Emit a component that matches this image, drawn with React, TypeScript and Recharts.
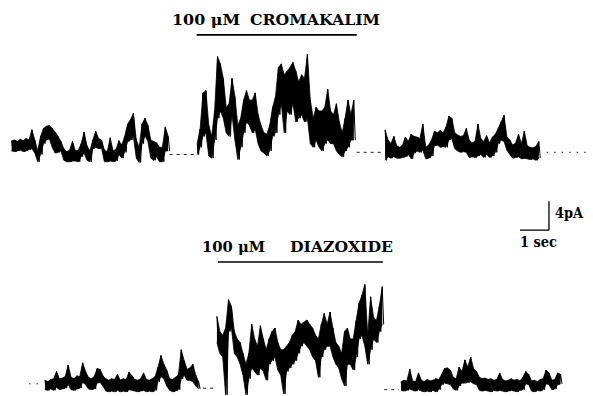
import React from 'react'
import { ComposedChart, Line, Area, XAxis, YAxis, ReferenceLine } from 'recharts'

// sampling step of the read-off envelope, seconds
const STEP = 0.1

// --- top trace (cromakalim), current in pA, max / min per sample ---
const cromaStarts = [0.4, 6.8, 13.28]
const cromaHi1 = [1.9, 2.0, 1.8, 2.1, 1.9, 2.2, 2.0, 3.4, 2.0, 0.5, 2.5, 3.6, 3.9, 4.0, 3.6, 3.1, 2.5, 1.8, 0.8, 0.4, 0.6, 1.8, 0.5, 0.6, 1.5, 3.1, 1.2, 0.5, 2.0, 3.2, 2.2, 2.0, 0.6, 0.4, 2.3, 0.5, 0.7, 1.9, 1.3, 2.5, 4.2, 4.8, 5.7, 2.0, 1.0, 4.2, 5.0, 4.0, 2.0, 1.8, 1.6, 1.0, 1.0, 3.8, 2.5]
const cromaLo1 = [0.5, 0.4, 0.5, 0.6, 0.4, 0.5, 0.7, 0.8, 0.2, -1.0, 0.0, 1.5, 2.0, 2.2, 1.0, 0.2, 0.3, 0.5, -0.8, -1.0, -1.0, -0.9, -0.9, -1.0, -0.3, 0.2, -0.8, -1.0, 0.8, 1.0, 0.8, 0.9, -1.0, -1.0, -0.9, -1.0, -0.9, 0.0, -0.5, 0.3, 1.8, 2.0, 2.5, -0.5, -1.1, 1.5, 2.6, 1.8, -0.5, -0.8, -0.3, -1.0, -1.0, 0.5, 0.5]
const cromaHi2 = [1.5, 3.5, 8.5, 8.8, 4.0, 2.5, 6.0, 13.5, 12.5, 10.5, 6.5, 7.0, 10.5, 8.0, 4.0, 5.0, 7.5, 8.8, 7.5, 7.5, 8.5, 5.5, 4.0, 3.0, 2.8, 4.0, 6.5, 8.0, 12.0, 12.5, 11.0, 11.5, 12.0, 12.7, 11.5, 10.0, 11.0, 10.5, 13.8, 7.5, 5.0, 6.5, 6.0, 6.0, 6.5, 9.0, 6.0, 5.5, 7.0, 4.5, 3.0, 5.0, 7.5, 5.5, 7.5]
const cromaLo2 = [0.0, 1.0, 2.5, 3.0, -0.2, -0.5, 2.0, 5.0, 6.0, 5.0, 3.0, 2.5, 5.5, 2.0, -0.7, 1.0, 3.0, 4.5, 4.0, 3.0, 3.5, 1.5, 0.5, 0.2, -0.2, 0.5, 2.5, 3.0, 5.5, 7.0, 3.0, 6.0, 5.5, 7.0, 4.5, 5.0, 5.5, 4.5, 5.0, 1.5, 1.0, 2.0, 1.0, 0.5, 1.5, 2.0, 1.5, 1.5, 0.5, 0.0, -0.3, 0.5, 1.0, 2.0, 2.0]
const cromaHi3 = [3.4, 2.0, 1.5, 2.5, 1.2, 1.0, 1.3, 2.4, 1.8, 2.8, 2.5, 2.4, 2.2, 4.2, 1.0, 1.3, 2.0, 3.2, 3.0, 3.3, 3.0, 3.8, 5.3, 5.0, 3.0, 2.7, 2.5, 2.6, 3.6, 2.0, 1.6, 1.8, 4.2, 2.2, 1.8, 2.6, 1.6, 2.4, 2.8, 3.6, 4.5, 5.4, 2.4, 2.0, 1.3, 1.6, 2.8, 1.5, 3.2, 1.2, 1.0, 0.9, 1.1, 1.8]
const cromaLo3 = [-0.8, -0.3, -0.5, -0.3, -0.5, -0.5, -0.4, -0.3, 0.0, -0.6, 0.2, 0.5, 0.3, 0.6, -0.6, -0.5, -0.2, 1.2, 1.3, 1.0, 1.1, 1.0, 2.0, 2.2, 0.8, 0.5, 0.3, 0.4, 0.3, -0.4, -0.3, -0.4, -0.2, 0.0, -0.4, 0.0, -0.4, -0.2, 0.3, 1.5, 2.0, 1.8, 0.6, 0.0, -0.5, -0.4, -0.3, -0.6, -0.5, -0.6, -0.7, -0.6, -0.8, -0.5]
// baseline (closed level) between pieces: [from s, to s, pA]
const cromaGaps = [[5.85, 6.75, 0], [12.3, 13.22, 0.3], [18.85, 20.4, 0.3]]

// --- bottom trace (diazoxide) ---
const diazStarts = [1.55, 7.48, 13.83]
const diazHi1 = [0.8, 0.6, 0.9, 1.0, 2.0, 1.0, 1.1, 1.3, 2.9, 1.2, 1.0, 1.4, 1.3, 3.2, 2.0, 1.2, 1.0, 1.3, 2.4, 2.3, 1.4, 1.0, 0.8, 1.0, 0.9, 1.6, 0.8, 1.0, 0.9, 1.9, 1.4, 0.9, 0.8, 1.0, 1.8, 0.9, 0.8, 1.0, 1.3, 2.6, 4.2, 3.0, 2.2, 1.0, 0.9, 1.2, 1.5, 5.0, 3.5, 2.3, 2.5, 3.0, 1.5, 0.6]
const diazLo1 = [-0.5, -0.6, -0.4, -0.6, -0.2, -0.5, -0.4, -0.3, 0.2, -0.5, -0.6, -0.4, -0.3, 0.5, 0.2, -0.4, -0.5, -0.4, 0.4, 0.5, 0.0, -0.7, -0.8, -0.7, -0.8, -0.6, -0.8, -0.7, -0.8, -0.5, -0.6, -0.7, -0.8, -0.7, -0.6, -0.8, -0.7, -0.8, -0.6, 0.6, 1.3, 1.0, 0.0, -0.6, -0.8, -0.7, -0.5, 1.0, 1.5, 0.8, 0.8, 0.6, 0.0, -0.4]
const diazHi2 = [9.6, 7.5, 7.0, 8.0, 11.9, 11.0, 7.5, 6.5, 6.0, 4.5, 3.0, 4.5, 8.5, 6.5, 5.5, 8.3, 6.5, 5.0, 6.5, 7.5, 8.0, 6.0, 5.0, 5.0, 5.5, 6.0, 7.0, 7.5, 9.1, 8.5, 8.8, 9.1, 8.5, 8.0, 7.0, 6.5, 8.5, 10.0, 8.5, 10.2, 8.0, 6.0, 5.5, 4.5, 7.5, 8.0, 6.5, 6.5, 9.0, 11.4, 12.5, 14.0, 7.0, 12.3, 9.5, 9.0, 11.0, 13.7]
const diazLo2 = [6.0, 4.5, 4.0, -1.2, 7.5, 8.0, 4.5, 4.0, 3.0, 1.5, -1.2, 1.0, 2.5, 2.0, 1.5, 2.5, 2.0, 0.8, 3.0, 3.5, 4.0, 2.2, 1.5, -1.1, 2.0, 2.5, 3.0, 3.5, 4.5, 5.5, 6.0, 5.5, 5.0, 4.0, 3.5, 1.2, 4.0, 5.0, 5.5, 5.5, 4.0, 3.0, 2.5, 1.0, 0.0, 3.0, 3.0, 2.2, 4.0, 6.5, 7.0, 5.5, 3.0, 5.0, 6.5, 6.0, 7.5, 8.5]
const diazHi3 = [0.6, 0.8, 0.7, 2.3, 0.7, 0.6, 1.8, 0.8, 0.6, 0.9, 0.7, 0.8, 1.0, 0.9, 1.6, 2.4, 2.5, 2.2, 1.2, 1.0, 2.6, 2.0, 3.6, 2.6, 4.0, 2.4, 2.0, 1.2, 1.0, 1.1, 0.9, 1.0, 0.8, 0.9, 1.8, 0.9, 0.7, 0.8, 1.0, 0.8, 0.9, 0.7, 1.2, 2.0, 1.6, 0.7, 0.8, 0.6, 0.9, 1.0, 2.2, 1.8, 0.8, 0.9, 1.8, 1.6]
const diazLo3 = [-0.6, -0.7, -0.6, -0.4, -0.6, -0.7, -0.5, -0.7, -0.8, -0.7, -0.8, -0.6, -0.8, -0.5, 0.2, 0.4, 0.3, 0.2, -0.4, -0.6, 0.0, 0.4, 0.4, 0.5, 0.6, 0.3, 0.2, -0.6, -0.7, -0.6, -0.7, -0.8, -0.6, -0.7, -0.6, -0.7, -0.8, -0.7, -0.6, -0.7, -0.8, -0.6, -0.5, 0.3, 0.2, -0.7, -0.8, -0.6, -0.7, -0.5, 0.3, 0.2, -0.5, -0.4, 0.2, 0.3]
const diazGaps = [[1.0, 1.5, 0.3], [7.0, 7.35, -0.3], [13.25, 13.75, -0.5]]

// drug application bars [from s, to s] and scale bar sizes
const cromaBar = [6.78, 12.3]
const diazBar = [7.52, 13.2]
const scaleSec = 1
const scalePA = 4

const W = 593
const H = 396
const PX_PER_SEC = 29
const PX_PER_PA = 7.25
const tMax = W / PX_PER_SEC
// top trace closed level sits at y=154.5, bottom at y=386
const topDomain = [154.5 / PX_PER_PA - H / PX_PER_PA, 154.5 / PX_PER_PA]
const botDomain = [386 / PX_PER_PA - H / PX_PER_PA, 386 / PX_PER_PA]

// envelope rows for the filled band
function band(start: number, hi: number[], lo: number[]) {
    return hi.map((h, k) => ({ t: start + k * STEP, r: [lo[k], h] }))
}
// each sample also becomes an up/down stroke so the edge looks like a noisy record
function zigzag(start: number, hi: number[], lo: number[]) {
    const pts: { t: number; i: number }[] = []
    hi.forEach((h, k) => {
        const t = start + k * STEP
        pts.push({ t, i: h })
        pts.push({ t: t + STEP / 2, i: lo[k] })
    })
    return pts
}

const croma = [
    [cromaStarts[0], cromaHi1, cromaLo1],
    [cromaStarts[1], cromaHi2, cromaLo2],
    [cromaStarts[2], cromaHi3, cromaLo3],
] as [number, number[], number[]][]
const diaz = [
    [diazStarts[0], diazHi1, diazLo1],
    [diazStarts[1], diazHi2, diazLo2],
    [diazStarts[2], diazHi3, diazLo3],
] as [number, number[], number[]][]

const ink = '#000'
const font = '"DejaVu Serif", "Liberation Serif", serif'

function trace(pieces: [number, number[], number[]][], axis: string, tag: string) {
    return pieces.flatMap(([s, hi, lo], k) => [
        <Area key={tag + 'a' + k} yAxisId={axis} data={band(s, hi, lo)} dataKey="r" type="linear"
            stroke={ink} strokeWidth={0.8} fill={ink} fillOpacity={1} dot={false} activeDot={false}
            isAnimationActive={false} />,
        <Line key={tag + 'l' + k} yAxisId={axis} data={zigzag(s, hi, lo)} dataKey="i" type="linear"
            stroke={ink} strokeWidth={1} dot={false} activeDot={false} isAnimationActive={false} />,
    ])
}

function gaps(list: number[][], axis: string, tag: string, sparse: number) {
    return list.map((g, k) => (
        <Line key={tag + 'g' + k} yAxisId={axis} data={[{ t: g[0], i: g[2] }, { t: g[1], i: g[2] }]}
            dataKey="i" stroke="#222" strokeWidth={1} strokeDasharray={k === sparse ? '1.5 6' : '3 4'}
            dot={false} activeDot={false} isAnimationActive={false} />
    ))
}

export default function App() {
    const scaleX = 18.93
    const scaleY = 21.5
    return (
        <div style={{ position: 'absolute', left: 0, top: 0, width: W, height: H, background: '#fff' }}>
            <ComposedChart width={W} height={H} margin={{ top: 0, right: 0, bottom: 0, left: 0 }}>
                <XAxis type="number" dataKey="t" domain={[0, tMax]} allowDataOverflow hide />
                <YAxis yAxisId="top" type="number" domain={topDomain} allowDataOverflow hide />
                <YAxis yAxisId="bot" type="number" domain={botDomain} allowDataOverflow hide />

                {trace(croma, 'top', 'c')}
                {gaps(cromaGaps, 'top', 'c', 2)}
                {trace(diaz, 'bot', 'd')}
                {gaps(diazGaps, 'bot', 'd', 0)}

                <ReferenceLine yAxisId="top" segment={[{ x: cromaBar[0], y: 16.5 }, { x: cromaBar[1], y: 16.5 }]}
                    stroke={ink} strokeWidth={1.6} ifOverflow="visible" />
                <ReferenceLine yAxisId="bot" segment={[{ x: diazBar[0], y: 17.1 }, { x: diazBar[1], y: 17.1 }]}
                    stroke={ink} strokeWidth={1.6} ifOverflow="visible" />
                <ReferenceLine yAxisId="bot" segment={[{ x: scaleX, y: scaleY }, { x: scaleX, y: scaleY + scalePA }]}
                    stroke={ink} strokeWidth={1.3} ifOverflow="visible" />
                <ReferenceLine yAxisId="bot" segment={[{ x: scaleX - scaleSec, y: scaleY }, { x: scaleX, y: scaleY }]}
                    stroke={ink} strokeWidth={1.3} ifOverflow="visible" />

                <text x={172} y={25} fontFamily={font} fontWeight="bold" fontSize={15} fill={ink}
                    textLength={68} lengthAdjust="spacingAndGlyphs">100 μM</text>
                <text x={250} y={25} fontFamily={font} fontWeight="bold" fontSize={15} fill={ink}
                    textLength={130} lengthAdjust="spacingAndGlyphs">CROMAKALIM</text>
                <text x={202} y={252} fontFamily={font} fontWeight="bold" fontSize={15} fill={ink}
                    textLength={63} lengthAdjust="spacingAndGlyphs">100 μM</text>
                <text x={290} y={252} fontFamily={font} fontWeight="bold" fontSize={15} fill={ink}
                    textLength={103} lengthAdjust="spacingAndGlyphs">DIAZOXIDE</text>
                <text x={555} y={218} fontFamily={font} fontWeight="bold" fontSize={14} fill={ink}
                    textLength={28} lengthAdjust="spacingAndGlyphs">4pA</text>
                <text x={520} y={247} fontFamily={font} fontWeight="bold" fontSize={14} fill={ink}
                    textLength={37} lengthAdjust="spacingAndGlyphs">1 sec</text>
            </ComposedChart>
        </div>
    )
}
